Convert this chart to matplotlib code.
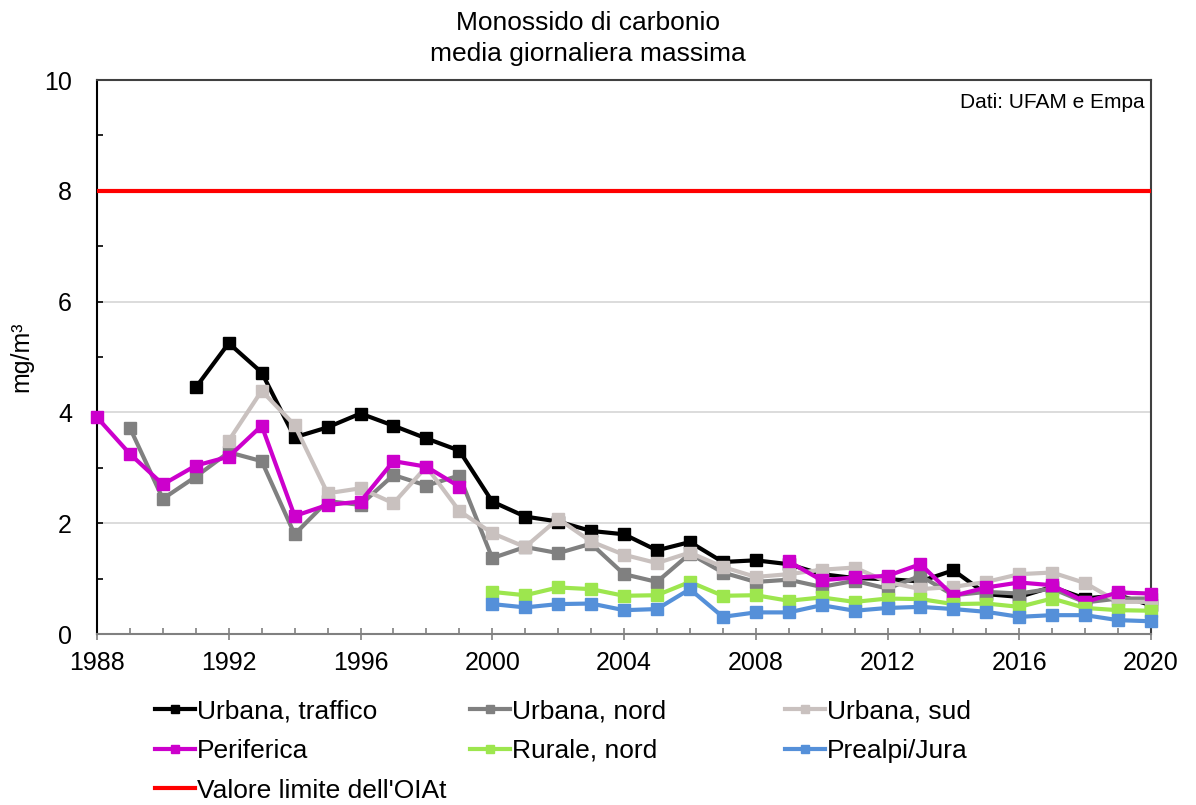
import numpy as np
import matplotlib
matplotlib.use("Agg")
import matplotlib.pyplot as plt
from matplotlib.ticker import MultipleLocator

plt.rcParams['font.family'] = ['Liberation Sans', 'DejaVu Sans']

nan = np.nan
years = np.arange(1988, 2021)

# values (mg/m3), nan = no data
urb_traffico = [nan, nan, nan, 4.45, 5.25, 4.72, 3.55, 3.73, 3.98, 3.76, 3.53, 3.31,
                2.39, 2.12, 2.03, 1.86, 1.80, 1.51, 1.66, 1.30, 1.33, 1.26,
                1.08, 1.01, 0.99, 0.95, 1.15, 0.72, 0.67, 0.85, 0.64, 0.70, 0.52]
urb_nord = [nan, 3.72, 2.44, 2.84, 3.28, 3.12, 1.80, 2.40, 2.33, 2.87, 2.68, 2.86,
            1.37, 1.57, 1.46, 1.63, 1.08, 0.94, 1.45, 1.11, 0.94, 0.98,
            0.85, 0.96, 0.82, 1.05, 0.70, 0.76, 0.73, 0.82, 0.57, 0.64, 0.64]
urb_sud = [nan, nan, nan, nan, 3.49, 4.39, 3.77, 2.54, 2.63, 2.36, 3.02, 2.22,
           1.82, 1.57, 2.08, 1.67, 1.43, 1.28, 1.47, 1.21, 1.03, 1.08,
           1.16, 1.20, 0.94, 0.81, 0.85, 0.94, 1.08, 1.11, 0.92, 0.58, 0.58]
periferica = [3.91, 3.25, 2.70, 3.04, 3.20, 3.76, 2.13, 2.33, 2.39, 3.12, 3.02, 2.66,
              nan, nan, nan, nan, nan, nan, nan, nan, nan, 1.31,
              0.97, 1.02, 1.05, 1.26, 0.69, 0.84, 0.93, 0.88, 0.58, 0.75, 0.73]
rurale_nord = [nan] * 12 + [0.76, 0.70, 0.84, 0.81, 0.69, 0.70, 0.94, 0.69, 0.70, 0.60,
                            0.66, 0.58, 0.64, 0.63, 0.54, 0.55, 0.49, 0.64, 0.47, 0.43, 0.42]
prealpi_jura = [nan] * 12 + [0.54, 0.48, 0.54, 0.55, 0.43, 0.45, 0.81, 0.31, 0.39, 0.39,
                             0.52, 0.42, 0.47, 0.49, 0.45, 0.40, 0.31, 0.34, 0.34, 0.25, 0.23]
limit_value = 8

series = [
    ("Urbana, traffico", urb_traffico, "#000000"),
    ("Urbana, nord", urb_nord, "#808080"),
    ("Urbana, sud", urb_sud, "#C9C1BF"),
    ("Periferica", periferica, "#CC00CC"),
    ("Rurale, nord", rurale_nord, "#9DE64E"),
    ("Prealpi/Jura", prealpi_jura, "#5590D9"),
]

fig = plt.figure(figsize=(11.96, 8.05), dpi=100)
ax = fig.add_axes([97 / 1196, 1 - 634 / 805, (1151 - 97) / 1196, (634 - 80) / 805])

handles = {}
for name, vals, col in series:
    h, = ax.plot(years, vals, color=col, lw=3, marker='s', markersize=8,
                 clip_on=False, zorder=3)
    handles[name] = h
hl = ax.axhline(limit_value, color='#FF0000', lw=3, zorder=3)
handles["Valore limite dell'OIAt"] = hl

ax.set_xlim(1988, 2020)
ax.set_ylim(0, 10)
ax.xaxis.set_major_locator(MultipleLocator(4))
ax.xaxis.set_minor_locator(MultipleLocator(1))
ax.yaxis.set_major_locator(MultipleLocator(2))
ax.yaxis.set_minor_locator(MultipleLocator(1))
ax.grid(axis='y', which='major', color='#D9D9D9', lw=1.3, zorder=0)
ax.set_axisbelow(True)

ax.tick_params(axis='x', which='major', direction='inout', length=9, width=1.2,
               color='#808080', labelsize=18, pad=8)
ax.tick_params(axis='x', which='minor', direction='in', length=4.5, width=1.2, color='#808080')
ax.tick_params(axis='y', which='both', direction='in', length=4.5, width=1.2,
               color='#000000', labelsize=18, pad=18)

ax.spines['left'].set_color('#000000')
ax.spines['bottom'].set_color('#808080')
ax.spines['top'].set_color('#404040')
ax.spines['right'].set_color('#404040')
for s in ax.spines.values():
    s.set_linewidth(1.5)

fig.text(588 / 1196, 1 - 11 / 805, "Monossido di carbonio\nmedia giornaliera massima",
         ha='center', va='top', fontsize=19, linespacing=1.38)
fig.text(21 / 1196, 1 - 357 / 805, "mg/m³", rotation=90, ha='center', va='center', fontsize=18)
ax.text(0.994, 0.96, "Dati: UFAM e Empa", transform=ax.transAxes, ha='right', va='center',
        fontsize=15)

# legend laid out in three columns like the original
columns = [
    (155, ["Urbana, traffico", "Periferica", "Valore limite dell'OIAt"]),
    (470, ["Urbana, nord", "Rurale, nord"]),
    (785, ["Urbana, sud", "Prealpi/Jura"]),
]
for xpx, names in columns:
    fig.legend([handles[n] for n in names], names, loc='upper left',
               bbox_to_anchor=(xpx / 1196, 1 - 699 / 805), frameon=False,
               fontsize=19, handlelength=1.5, handletextpad=0.1, borderpad=0,
               borderaxespad=0, labelspacing=0.6, markerscale=0.75)

fig.savefig("out.png", dpi=100)
